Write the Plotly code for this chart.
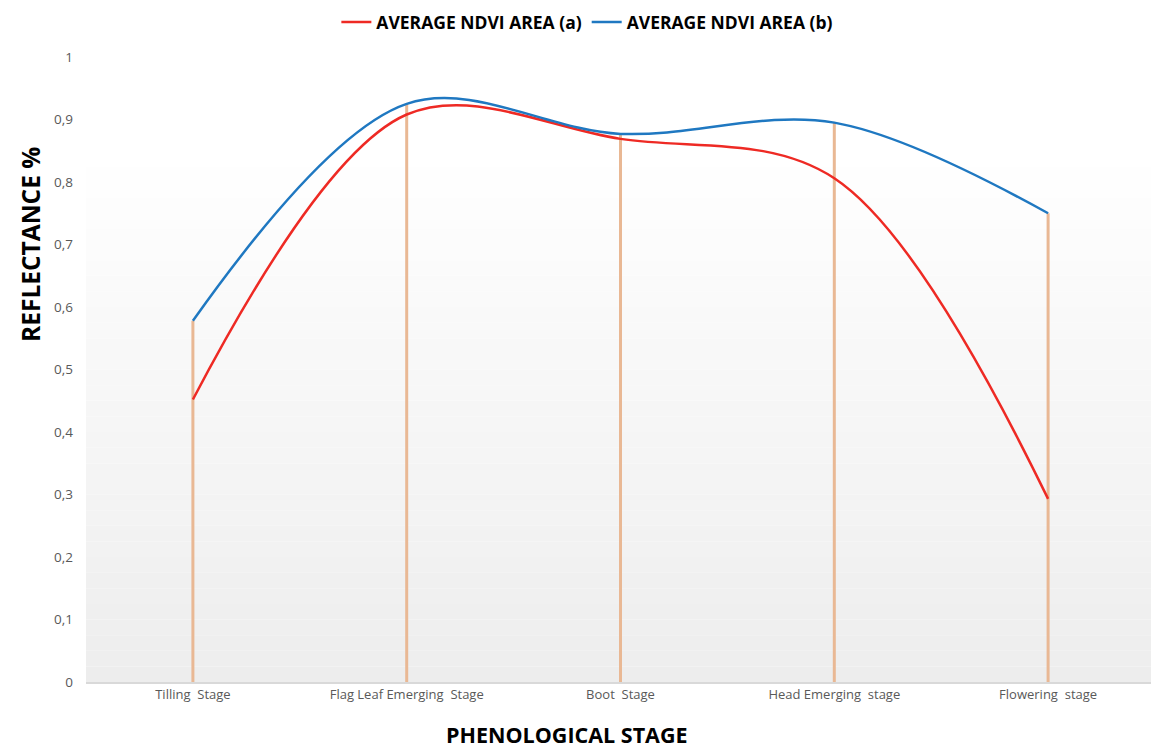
import plotly.graph_objects as go

stages = ["Tilling  Stage", "Flag Leaf Emerging  Stage", "Boot  Stage", "Head Emerging  stage", "Flowering  stage"]
ndvi_a = [0.452, 0.908, 0.869, 0.806, 0.293]
ndvi_b = [0.578, 0.925, 0.877, 0.895, 0.750]
y_ticks = [0, 0.1, 0.2, 0.3, 0.4, 0.5, 0.6, 0.7, 0.8, 0.9, 1]

fig = go.Figure()

# background gradient bands (plot area)
n = 40
for i in range(n):
    y0 = i / n
    y1 = (i + 1) / n
    t = (i + 0.5) / n  # 0 bottom -> 1 top
    g = int(round(237 + (255 - 237) * min(1, t / 0.85)))
    fig.add_shape(type="rect", xref="x domain", yref="y domain", x0=0, x1=1, y0=y0, y1=y1,
                  fillcolor=f"rgb({g},{g},{g})", line=dict(width=0), layer="below")

# drop lines
dx, dy = [], []
for s, a, b in zip(stages, ndvi_a, ndvi_b):
    dx += [s, s, None]
    dy += [0, max(a, b), None]
fig.add_trace(go.Scatter(x=dx, y=dy, mode="lines", line=dict(color="#E9B894", width=3),
                         showlegend=False, hoverinfo="skip"))

fig.add_trace(go.Scatter(x=stages, y=ndvi_a, mode="lines", name="AVERAGE NDVI AREA (a)",
                         line=dict(color="#EE2A24", width=2.5, shape="spline", smoothing=1)))
fig.add_trace(go.Scatter(x=stages, y=ndvi_b, mode="lines", name="AVERAGE NDVI AREA (b)",
                         line=dict(color="#1F78C1", width=2.5, shape="spline", smoothing=1)))

fig.update_layout(
    width=1151, height=740,
    margin=dict(l=78, r=4, t=49, b=66, autoexpand=False),
    paper_bgcolor="white", plot_bgcolor="white",
    separators=", ",
    font=dict(family="Open Sans", color="#595959"),
    legend=dict(orientation="h", x=0.469, xanchor="center", y=1.056, yanchor="middle",
                font=dict(family="Open Sans", size=17.5, color="black", weight="bold"),
                itemwidth=30, tracegroupgap=0),
    showlegend=True,
)

fig.update_xaxes(showgrid=False, showline=True, linecolor="#D9D9D9", linewidth=1.5,
                 ticks="", tickfont=dict(size=13, color="#595959", family="Open Sans"),
                 range=[-0.5, 4.5], zeroline=False, automargin=False)
fig.update_yaxes(range=[0, 1], tickvals=y_ticks, showgrid=False, showline=False, zeroline=False,
                 ticks="", ticklabelstandoff=12, automargin=False,
                 tickfont=dict(size=13.5, color="#595959", family="Open Sans"))

fig.add_annotation(text="REFLECTANCE %", xref="paper", yref="paper", x=-0.052, y=0.70,
                   xanchor="center", yanchor="middle", showarrow=False, textangle=-90,
                   font=dict(size=24.5, color="black", family="Open Sans", weight="bold"))

fig.add_annotation(text="PHENOLOGICAL STAGE", xref="paper", yref="paper", x=0.45, y=-0.084,
                   xanchor="center", yanchor="middle", showarrow=False,
                   font=dict(size=21.5, color="black", family="Open Sans", weight="bold"))

fig.write_html("out.html")
